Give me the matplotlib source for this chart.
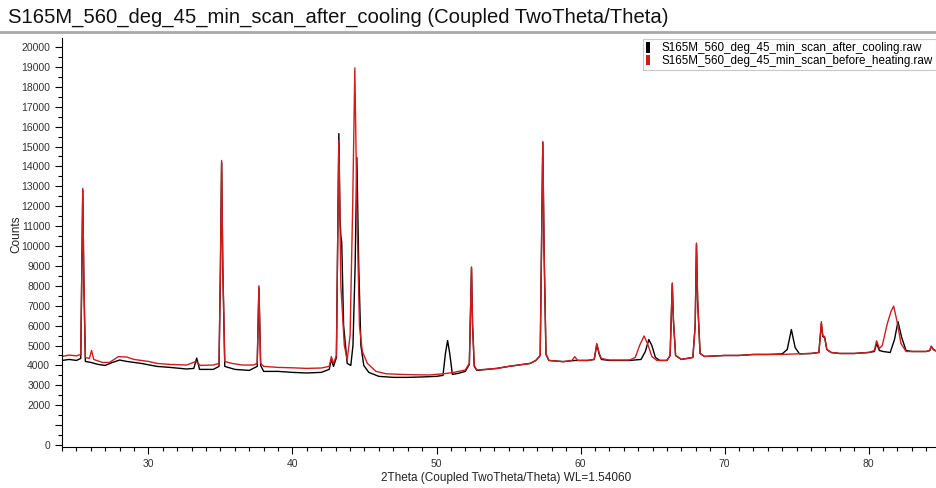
import numpy as np
import matplotlib.pyplot as plt
from matplotlib.lines import Line2D
from matplotlib.patches import Rectangle

plt.rcParams['font.family'] = ['Liberation Sans', 'DejaVu Sans']

# %% Data (2theta in degrees, counts)
# before heating (red) - polyline vertices
tt_before = [24.0, 24.5, 25.0, 25.3, 25.37, 25.44, 25.51, 25.62, 25.9, 26.05, 26.2, 26.8,
             27.3, 27.9, 28.5, 29.0, 29.5, 30.0, 30.6, 31.5, 32.65, 33.3, 33.6, 34.5,
             34.9, 35.0, 35.08, 35.16, 35.3, 35.8, 36.5, 37.3, 37.55, 37.67, 37.79, 38.0,
             39.0, 40.0, 41.0, 42.0, 42.55, 42.7, 42.85, 43.05, 43.22, 43.36, 43.6, 43.8,
             44.0, 44.18, 44.33, 44.47, 44.65, 44.85, 45.2, 45.8, 46.5, 47.5, 48.5, 49.5,
             50.5, 51.2, 52.0, 52.28, 52.43, 52.5, 52.62, 52.8, 54.2, 55.0, 56.5, 56.9,
             57.2, 57.38, 57.47, 57.6, 57.8, 58.8, 59.4, 59.6, 59.8, 60.5, 60.95, 61.13,
             61.3, 61.45, 62.0, 63.4, 63.8, 64.1, 64.41, 64.65, 64.95, 65.3, 66.0, 66.22,
             66.37, 66.45, 66.6, 67.0, 67.8, 67.96, 68.05, 68.13, 68.3, 68.6, 70.0, 71.0,
             72.0, 73.0, 74.0, 75.0, 76.0, 76.55, 76.72, 76.82, 76.95, 77.1, 77.4, 78.0,
             79.0, 80.0, 80.4, 80.56, 80.75, 80.95, 81.3, 81.55, 81.74, 81.95, 82.25, 82.6,
             83.0, 84.0, 84.25, 84.35, 84.5, 84.75]
cnt_before = [4450, 4520, 4480, 4550, 8500, 12900, 8500, 4400, 4350, 4750, 4300, 4150,
              4150, 4440, 4420, 4300, 4250, 4200, 4100, 4050, 4020, 4200, 4000, 4020,
              4100, 9000, 14300, 9000, 4200, 4100, 4020, 4020, 4100, 8000, 4100, 3950,
              3900, 3880, 3850, 3870, 3950, 4440, 4100, 4500, 15300, 8000, 5000, 4300,
              5500, 12000, 18950, 12000, 6000, 4700, 4100, 3700, 3580, 3550, 3530, 3520,
              3580, 3650, 3770, 4100, 8950, 6150, 4000, 3770, 3850, 3950, 4100, 4250,
              4500, 15250, 9800, 4600, 4250, 4190, 4250, 4440, 4250, 4250, 4300, 5100,
              4600, 4350, 4270, 4270, 4400, 5000, 5480, 5100, 4450, 4250, 4250, 4500,
              8150, 6300, 4500, 4300, 4400, 6000, 10150, 7300, 4600, 4450, 4500, 4500,
              4550, 4550, 4550, 4580, 4600, 4650, 6200, 5500, 5450, 4800, 4650, 4600,
              4600, 4650, 4750, 5240, 4850, 5000, 6100, 6700, 6980, 6300, 5100, 4700,
              4700, 4700, 4750, 4970, 4800, 4700]

# after cooling (black) - polyline vertices
tt_after = [24.0, 24.5, 25.0, 25.3, 25.37, 25.44, 25.51, 25.62, 26.0, 26.5, 27.0, 27.5,
            28.0, 28.5, 29.5, 30.6, 31.5, 32.65, 33.15, 33.35, 33.55, 34.5, 34.9, 35.0,
            35.08, 35.16, 35.3, 36.0, 37.0, 37.55, 37.67, 37.79, 38.0, 39.0, 40.0, 41.0,
            42.0, 42.55, 42.7, 42.85, 43.05, 43.22, 43.3, 43.36, 43.42, 43.55, 43.8, 44.05,
            44.2, 44.35, 44.47, 44.6, 44.75, 44.95, 45.3, 46.0, 47.0, 48.0, 49.0, 50.0,
            50.45, 50.62, 50.77, 50.92, 51.1, 51.5, 52.0, 52.28, 52.43, 52.5, 52.62, 52.8,
            54.2, 55.0, 56.5, 56.9, 57.2, 57.38, 57.47, 57.6, 57.8, 58.8, 59.6, 60.5,
            60.95, 61.13, 61.3, 61.45, 62.0, 63.4, 64.2, 64.5, 64.74, 64.95, 65.2, 65.5,
            66.0, 66.22, 66.37, 66.45, 66.6, 67.0, 67.8, 67.96, 68.05, 68.13, 68.3, 68.6,
            70.0, 71.0, 72.0, 73.0, 74.0, 74.35, 74.64, 74.9, 75.2, 76.0, 76.55, 76.72,
            76.82, 76.95, 77.1, 77.4, 78.0, 79.0, 80.0, 80.4, 80.56, 80.75, 81.0, 81.5,
            81.8, 82.04, 82.3, 82.6, 83.0, 84.0, 84.25, 84.35, 84.5, 84.75]
cnt_after = [4250, 4300, 4250, 4350, 8400, 12800, 8400, 4200, 4150, 4050, 4000, 4150,
             4270, 4200, 4100, 3950, 3900, 3820, 3850, 4370, 3800, 3800, 3950, 9000,
             14200, 9000, 3950, 3800, 3750, 3950, 7900, 4000, 3700, 3700, 3650, 3620,
             3650, 3800, 4300, 3950, 4400, 15650, 11400, 10500, 10200, 6000, 4100, 4000,
             5000, 9000, 14450, 9000, 5000, 4000, 3650, 3450, 3400, 3400, 3420, 3450,
             3500, 4600, 5250, 4600, 3550, 3600, 3700, 4050, 8900, 6100, 3950, 3750,
             3850, 3950, 4100, 4250, 4500, 15200, 9750, 4550, 4250, 4190, 4250, 4250,
             4300, 5050, 4550, 4300, 4250, 4250, 4300, 4700, 5300, 5000, 4400, 4250,
             4250, 4500, 8100, 6250, 4500, 4300, 4400, 6000, 10100, 7250, 4600, 4450,
             4500, 4500, 4550, 4550, 4580, 4800, 5800, 4900, 4580, 4600, 4650, 6100,
             5450, 5400, 4800, 4650, 4600, 4600, 4650, 4700, 5100, 4750, 4700, 4650,
             5300, 6200, 5400, 4750, 4700, 4700, 4750, 4950, 4800, 4700]

label_after = "S165M_560_deg_45_min_scan_after_cooling.raw"
label_before = "S165M_560_deg_45_min_scan_before_heating.raw"
red = '#d01c1f'

# %% Plot
fig = plt.figure(figsize=(9.37, 4.88), dpi=100)
ax = fig.add_axes([0.0662, 0.084, 0.9338, 0.838])

ax.plot(tt_after, cnt_after, color='black', linewidth=1.0)
ax.plot(tt_before, cnt_before, color=red, linewidth=1.0)

ax.set_xlim(24.0, 84.75)
ax.set_ylim(-100, 20450)

ax.set_xticks(np.arange(30, 81, 10))
ax.set_xticks(np.arange(24, 85, 1), minor=True)
yt = np.arange(0, 20001, 1000)
ax.set_yticks(yt)
ax.set_yticklabels(['' if v == 1000 else str(v) for v in yt])
ax.set_yticks(np.arange(0, 20001, 500), minor=True)
ax.tick_params(axis='both', which='major', length=5, width=0.8, labelsize=7.5,
               labelcolor='#333333', direction='out')
ax.tick_params(axis='both', which='minor', length=3, width=0.8, direction='out')

for s in ['top', 'right']:
    ax.spines[s].set_visible(False)
for s in ['left', 'bottom']:
    ax.spines[s].set_linewidth(0.8)

ax.set_xlabel("2Theta (Coupled TwoTheta/Theta) WL=1.54060", fontsize=8.5, color='#222222')
ax.xaxis.set_label_coords(0.507, -0.062)
ax.set_ylabel("Counts", fontsize=8.5, color='#222222')
ax.yaxis.set_label_coords(-0.045, 0.52)

handles = [Rectangle((0, 0), 1, 1, facecolor='black'),
           Rectangle((0, 0), 1, 1, facecolor=red)]
leg = ax.legend(handles, [label_after, label_before], loc='upper right',
                bbox_to_anchor=(1.0, 1.0), fontsize=8.4, handlelength=0.35,
                handleheight=1.0, handletextpad=1.0, labelspacing=0.05,
                borderpad=0.25, borderaxespad=0.1, fancybox=False, framealpha=1,
                edgecolor='#c8c8c8')
leg.get_frame().set_linewidth(0.8)

fig.text(0.009, 0.965, "S165M_560_deg_45_min_scan_after_cooling (Coupled TwoTheta/Theta)",
         fontsize=14.6, va='center', ha='left', color='#111111')
fig.add_artist(Line2D([0, 1], [0.934, 0.934], color='#a8a8a8', linewidth=2))

fig.savefig("out.png", dpi=100)
plt.close()
